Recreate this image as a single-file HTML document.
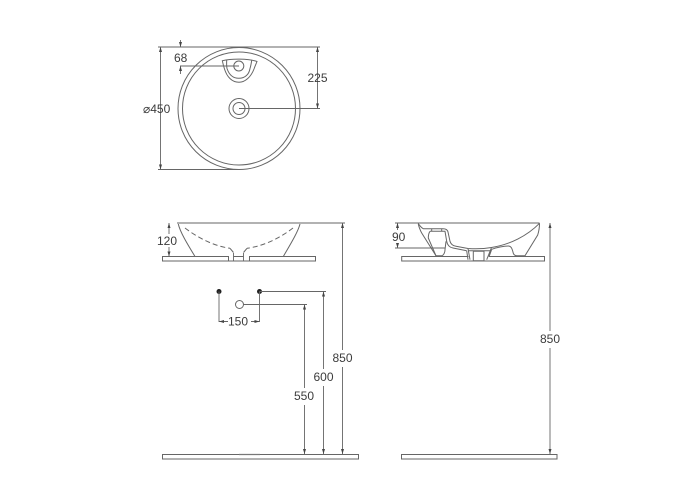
<!DOCTYPE html>
<html>
<head>
<meta charset="utf-8">
<style>
html,body{margin:0;padding:0;background:#fff;width:700px;height:500px;overflow:hidden}
svg{display:block}
text{font-family:"Liberation Sans",sans-serif;font-size:12px;fill:#3c3c3c}
.o{fill:none;stroke:#666;stroke-width:1}
.d{fill:none;stroke:#666;stroke-width:.9}
.a{fill:#444}
</style>
</head>
<body>
<svg width="700" height="500" viewBox="0 0 700 500" xmlns="http://www.w3.org/2000/svg">
<rect width="700" height="500" fill="#fff"/>

<!-- Top view -->
<circle class="o" cx="239" cy="108.500" r="61"/>
<circle class="o" cx="239" cy="108.500" r="56.500"/>
<circle class="o" cx="239" cy="108.500" r="10"/>
<circle class="o" cx="239" cy="108.500" r="6"/>
<circle class="o" cx="238.800" cy="66" r="5"/>
<path class="o" d="M222.300 60.700C232 58.500 248 58.500 257 61.500C256 64 255 66 254 69C251 77 245 82.300 239 82.300C232 82.300 227 77 224.500 69C223.500 66 222.800 63 222.300 60.700Z"/>
<path class="o" d="M226.700 60C226.500 64 226.500 66 227 68.500C229 74.500 233 78.300 238.800 78.300C245 78.300 249 74.500 250 68.500C250.800 66 251.300 63 251.700 60.500"/>
<path class="d" d="M158 47H320M158 169.500H240M239 108.500H320M180 66H239"/>
<path class="d" d="M317.500 47V108.500M160.500 47V169.500M180.500 40V47M180.500 66V74"/>
<path class="a" d="M317.500 47l-1.500 5h3zM317.500 108.500l-1.500-5h3zM160.500 47l-1.500 5h3zM160.500 169.500l-1.500-5h3zM180.500 47l-1.500-5h3zM180.500 66l-1.500 5h3z"/>
<text x="174" y="62">68</text>
<text x="307.500" y="82">225</text>
<text x="143" y="113">⌀450</text>

<!-- Front view -->
<path class="o" d="M177 223H300M178.300 224C180 232 188 245 195 256.500M300 224C298 232 290 245 283.300 256.500"/>
<path class="o" stroke-dasharray="5 3" d="M185 228C198 238 214 246 230 248.300M293 228C280 238 264 246 247 248.300"/>
<path class="o" d="M230 248.300L233.500 252.500M247 248.300L243.500 252.500"/>
<path class="o" d="M162.500 256.500H228.500V261H162.500ZM249.500 256.500H315.500V261H249.500ZM228.500 261H249.500"/>
<path class="d" d="M233.500 253V261M243.500 253V261M233.500 256.500H243.500"/>
<path class="d" d="M177 223H345M169 223V256.500M164 256.500H176"/>
<path class="a" d="M169 223l-1.500 5h3zM169 256.500l-1.500-5h3z"/>
<rect x="157" y="234" width="24" height="13" fill="#fff"/>
<text x="157" y="245">120</text>

<!-- Wall points -->
<circle cx="219" cy="291.500" r="2.500" fill="#222"/>
<circle cx="259.500" cy="291.500" r="2.500" fill="#222"/>
<circle class="o" cx="239.500" cy="304.500" r="4"/>
<path class="d" d="M219 291.500V322M259.500 291.500V322M259.500 291.500H326M243.500 304.500H307"/>
<path class="d" d="M219 321.500H228M251 321.500H259.500"/>
<path class="a" d="M219 321.500l5-1.500v3zM259.500 321.500l-5-1.500v3z"/>
<text x="228" y="325.500">150</text>

<!-- Vertical dims -->
<path class="d" d="M304.500 304.500V388M304.500 405V454M323.500 291.500V369M323.500 386V454M342.500 223V350M342.500 367V454M550 223V331M550 348V454"/>
<path class="a" d="M304.500 304.500l-1.500 5h3zM304.500 454l-1.500-5h3zM323.500 291.500l-1.500 5h3zM323.500 454l-1.500-5h3zM342.500 223l-1.500 5h3zM342.500 454l-1.500-5h3zM550 223l-1.500 5h3zM550 454l-1.500-5h3z"/>
<text x="294" y="400">550</text>
<text x="313.500" y="381">600</text>
<text x="332.500" y="362">850</text>
<text x="540" y="343">850</text>

<!-- Floors -->
<rect class="o" x="162.500" y="454.500" width="196" height="4.500"/>
<rect class="o" x="401.500" y="454.500" width="155.500" height="4.500"/>
<path d="M239 454.500H260" stroke="#777" stroke-width="1.200" fill="none"/>

<!-- Side view -->
<path class="o" d="M418.500 223H539.500"/>
<path class="o" d="M418.300 223.700C418.500 226 420.500 231 421.700 233L436 255.800"/>
<path class="o" d="M418.300 223.700C420 226 421.500 228 423.300 228.700H443C446 228.700 447.500 229.500 448 232L450 241.300C451 244.500 453 245.800 456 246.300L468 248.500C475 249 484 248.800 491.500 247.500C510 244.500 527 236 539.500 223.300"/>
<path class="o" d="M430 231.300H445L446.700 241.300C447.500 246 450 247.500 453 248L466.700 250.800"/>
<path class="o" d="M431.700 228.500V231.300M441.700 228.500V231.300"/>
<path class="o" d="M430 231.300C428.800 233 428.300 236 428.300 238L436 255.800H441.700C444 255 445 252 445 249.700L446 241.300"/>
<path class="o" d="M468 248.500L470 259.700M466.700 250.800L468 259.700M473.300 251.300H484V260.700H473.300ZM468 250.800H491.500M491.500 247.500L486.700 259.700M491.700 249.300L489 256.800"/>
<path class="o" d="M491.700 249.300C497 247.500 503 246 508.300 246C511 246 512 248 513.300 253.300C514 255 515 255.700 516.700 255.700H525L537.700 235C539 231 539.500 227 539.500 223.300"/>
<path class="o" d="M468.500 256.500H401.700V261H468.500M489 256.500H544.500V261H489M468.500 261H489"/>
<path class="d" d="M395 223H419M397.500 223V247.500M395 248H445"/>
<path class="a" d="M397.500 223l-1.500 5h3zM397.500 248l-1.500-5h3z"/>
<rect x="390" y="230" width="16" height="13" fill="#fff"/>
<text x="392" y="241">90</text>
</svg>
</body>
</html>
